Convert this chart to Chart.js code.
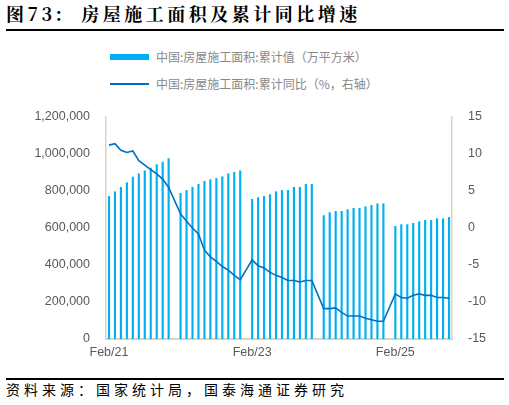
<!DOCTYPE html>
<html><head><meta charset="utf-8">
<script src="https://cdn.jsdelivr.net/npm/chart.js@4"></script>
<style>
body{margin:0;width:509px;height:405px;background:#fff;position:relative;overflow:hidden;font-family:"Noto Sans CJK SC",sans-serif}
#title{position:absolute;left:6px;top:0px;font-size:18px;font-weight:bold;color:#000;letter-spacing:3.5px;font-family:"Noto Serif CJK SC","Noto Sans CJK SC",serif}
#tl{position:absolute;left:6px;top:29px;width:498px;height:2px;background:#000}
#bl{position:absolute;left:6px;top:378px;width:498px;height:2px;background:#000}
#foot{position:absolute;left:6px;top:379px;font-size:14px;color:#000;letter-spacing:4px}
.lg{position:absolute;left:110px;font-size:12px;color:#888;display:flex;align-items:center}
.lg span{display:inline-block;width:39px;margin-right:7px}
#c{position:absolute;left:0;top:100px}
</style></head><body>
<div id="title">图73:&nbsp;&nbsp;房屋施工面积及累计同比增速</div>
<div id="tl"></div>
<div class="lg" style="top:48px"><span style="height:6px;background:#00b0f0"></span>中国:房屋施工面积:累计值（万平方米）</div>
<div class="lg" style="top:75px"><span style="height:2px;background:#0070c0"></span>中国:房屋施工面积:累计同比（%，右轴）</div>
<canvas id="c" width="509" height="265"></canvas>
<div id="bl"></div>
<div id="foot">资料来源：国家统计局，国泰海通证券研究</div>
<script>
const years=[21,22,23,24,25];
const months=['Jan','Feb','Mar','Apr','May','Jun','Jul','Aug','Sep','Oct','Nov','Dec'];
const labels=[];
for(const y of years){for(let m=(y===21?1:0);m<12;m++){if(y===25&&m>10)break;labels.push(months[m]+'/'+y);}}
const area2021=[773000,798000,822000,847000,877000,895000,911000,926000,944000,958000,977000];
const area2022=[789000,805000,822000,838000,854000,863000,870000,879000,895000,903000,911000];
const area2023=[757000,766000,773000,782000,798000,805000,805000,822000,822000,838000,838000];
const area2024=[669000,685000,692000,692000,701000,708000,708000,717000,724000,733000,733000];
const area2025=[611000,620000,620000,627000,636000,643000,643000,652000,652000,659000];
const yoy2021=[11.2,11.4,10.5,10.2,10.4,9.1,8.5,7.9,7.3,6.6,5.5];
const yoy2022=[1.9,0.9,0.0,-0.8,-3.0,-3.9,-4.5,-5.2,-5.7,-6.4,-7.0];
const yoy2023=[-4.3,-5.1,-5.4,-6.0,-6.4,-6.7,-7.1,-7.1,-7.3,-7.1,-7.1];
const yoy2024=[-10.9,-10.9,-10.8,-11.4,-11.9,-11.9,-11.9,-12.2,-12.4,-12.6,-12.6];
const yoy2025=[-8.9,-9.4,-9.5,-9.1,-8.9,-9.1,-9.1,-9.4,-9.4,-9.5];
const tickLabels=['Feb/21','Feb/23','Feb/25'];
const area=[...area2021,null,...area2022,null,...area2023,null,...area2024,null,...area2025];
const yoy=[...yoy2021,null,...yoy2022,null,...yoy2023,null,...yoy2024,null,...yoy2025];
const axisCol='#d9d5bf', tickCol='#595959';
const font={family:'Liberation Sans, Arial',size:12.5};
new Chart(document.getElementById('c'),{
 data:{labels,datasets:[
  {type:'line',data:yoy,yAxisID:'y1',borderColor:'#0070c0',borderWidth:1.6,pointRadius:0,spanGaps:true,tension:0,order:0},
  {type:'bar',data:area,yAxisID:'y',backgroundColor:'#00b0f0',categoryPercentage:1,barPercentage:0.36,order:1}
 ]},
 options:{responsive:false,animation:false,
  layout:{padding:{top:17,left:0,right:0,bottom:0}},
  plugins:{legend:{display:false},tooltip:{enabled:false}},
  scales:{
   x:{offset:true,grid:{display:false,drawTicks:false},border:{color:axisCol,width:2},
      afterFit:s=>{s.height=26;},
      ticks:{autoSkip:false,maxRotation:0,color:tickCol,font,padding:6,
        callback:function(v){const l=this.getLabelForValue(v);return tickLabels.includes(l)?l:'';}}},
   y:{position:'left',min:0,max:1200000,grid:{display:false},border:{color:axisCol,width:1.5},
      afterFit:s=>{s.width=106;},
      ticks:{stepSize:200000,color:tickCol,font,padding:8,callback:v=>v.toLocaleString('en-US')}},
   y1:{position:'right',min:-15,max:15,grid:{display:false},border:{color:axisCol,width:1.5},
      afterFit:s=>{s.width=57;},
      ticks:{stepSize:5,color:tickCol,font,padding:8}}
  }}
});
</script>
</body></html>
